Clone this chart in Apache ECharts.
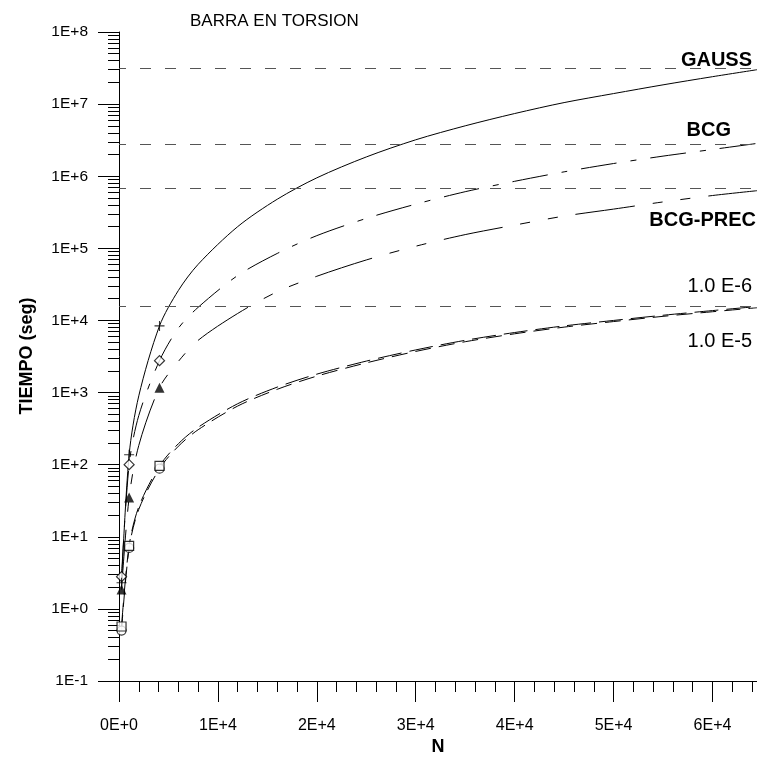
<!DOCTYPE html>
<html><head><meta charset="utf-8">
<script src="https://cdn.jsdelivr.net/npm/echarts@6/dist/echarts.min.js"></script>
<style>html,body{margin:0;padding:0;background:#fff}#c{width:757px;height:757px}</style>
</head><body><div id="c"></div>
<script>
// ---- data ----
const N        = [256, 1024, 2000, 4096, 6000, 8000, 12000, 16000, 20000, 25000, 30000, 35000, 40000, 45000, 50000, 55000, 60000, 64500];
const gauss    = [2.3, 137, 900, 8400, 2.6e4, 6.0e4, 2.0e5, 4.8e5, 9.5e5, 1.85e6, 3.2e6, 5.0e6, 7.4e6, 1.05e7, 1.4e7, 1.85e7, 2.4e7, 3.0e7];
const bcg      = [2.8, 100, 480, 2770, 7800, 1.52e4, 4.2e4, 8.5e4, 1.5e5, 2.6e5, 4.1e5, 6.1e5, 8.5e5, 1.15e6, 1.5e6, 1.9e6, 2.35e6, 2.85e6];
const bcgPrec  = [1.85, 35, 185, 1170, 2700, 5.3e3, 1.25e4, 2.5e4, 4.1e4, 6.9e4, 1.07e5, 1.55e5, 2.1e5, 2.8e5, 3.5e5, 4.4e5, 5.4e5, 6.3e5];
const tol6     = [0.57, 7.5, 26, 96, 195, 330, 700, 1190, 1800, 2730, 3900, 5300, 6800, 8400, 10000, 11800, 13700, 15600];
const tol5     = [0.5, 7.0, 24, 88, 180, 305, 650, 1110, 1690, 2580, 3720, 5070, 6530, 8080, 9650, 11400, 13200, 15000];
const markN    = [256, 1024, 4096]; // N values that carry symbols
const refLevels = [3.1e7, 2.8e6, 6.9e5, 1.56e4];
const yDecades = [0.1, 1, 10, 100, 1e3, 1e4, 1e5, 1e6, 1e7, 1e8];
const yMinorMult = [2, 3, 4, 5, 6, 7, 8, 9];
const xMajorTicks = [0, 10000, 20000, 30000, 40000, 50000, 60000];
const curveLabels = ['GAUSS', 'BCG', 'BCG-PREC', '1.0 E-6', '1.0 E-5'];
const titleText = 'BARRA EN TORSION';

// ---- build ----
const FONT = '"Liberation Sans", Arial, sans-serif';
const yMinor = [];
yDecades.slice(0, -1).forEach(d => yMinorMult.forEach(m => yMinor.push(Number((m * d).toPrecision(3)))));
const pts = arr => N.map((n, i) => [n, arr[i]]);
const marks = arr => pts(arr).filter(p => markN.indexOf(p[0]) >= 0);
const fmtY = v => { const e = Math.round(Math.log10(v)); return '1E' + (e >= 0 ? '+' : '') + e; };
const fmtX = v => xMajorTicks.indexOf(v) < 0 ? '' : (v === 0 ? '0E+0' : (v / 1e4) + 'E+4');
const plus = 'path://M-0.11,-1L0.11,-1L0.11,-0.11L1,-0.11L1,0.11L0.11,0.11L0.11,1L-0.11,1L-0.11,0.11L-1,0.11L-1,-0.11L-0.11,-0.11Z';

function curve(name, arr, dash) {
  return {name, type: 'line', data: pts(arr), showSymbol: false, smooth: 0.3,
    lineStyle: {color: '#000', width: 1, type: dash}, z: 2, silent: true};
}
function marker(name, arr, symbol, size, filled) {
  return {name: name + '-m', type: 'scatter', data: marks(arr), symbol, symbolSize: size,
    itemStyle: {color: filled ? '#000' : '#fff', borderColor: '#000', borderWidth: filled ? 0 : 1.2}, z: 5, silent: true};
}

const chart = echarts.init(document.getElementById('c'));
chart.setOption({
  animation: false,
  grid: {left: 119, top: 32, right: -1, bottom: 76},
  xAxis: [
    {type: 'value', min: 0, max: 64500, interval: 10000,
     axisLine: {lineStyle: {color: '#000', width: 1}},
     axisTick: {length: 21, lineStyle: {color: '#000'}},
     axisLabel: {formatter: fmtX, color: '#000', fontSize: 16, fontFamily: FONT, margin: 37, showMaxLabel: false},
     splitLine: {show: false}},
    {type: 'value', min: 0, max: 64500, interval: 2000, position: 'bottom',
     axisLine: {show: false}, axisTick: {length: 11, lineStyle: {color: '#000'}},
     axisLabel: {show: false}, splitLine: {show: false}}
  ],
  yAxis: [
    {type: 'log', logBase: 10, min: 0.1, max: 1e8, splitNumber: 9,
     axisLine: {lineStyle: {color: '#000', width: 1}},
     axisTick: {length: 21, customValues: yDecades, lineStyle: {color: '#000'}},
     axisLabel: {customValues: yDecades, formatter: fmtY, color: '#000', fontSize: 15.5, fontFamily: FONT, margin: 31},
     splitLine: {show: false}},
    {type: 'log', logBase: 10, min: 0.1, max: 1e8, position: 'left',
     axisLine: {show: false},
     axisTick: {length: 11, customValues: yMinor, lineStyle: {color: '#000'}},
     axisLabel: {show: false}, splitLine: {show: false}}
  ],
  series: [
    {name: 'ref', type: 'line', data: [], silent: true,
     markLine: {silent: true, symbol: ['none', 'none'], label: {show: false}, animation: false,
       lineStyle: {color: '#555', width: 1, type: [11, 14], dashOffset: 4},
       data: refLevels.map(v => ({yAxis: v}))}},
    curve(curveLabels[0], gauss, 'solid'),
    curve(curveLabels[1], bcg, [36, 14, 6, 14]),
    curve(curveLabels[2], bcgPrec, [60, 18, 10, 18, 10, 18]),
    curve(curveLabels[3], tol6, [24, 8]),
    curve(curveLabels[4], tol5, [16, 8]),
    marker(curveLabels[4], tol5, 'circle', 9, false),
    marker(curveLabels[3], tol6, 'rect', 9, false),
    marker(curveLabels[2], bcgPrec, 'triangle', 10, true),
    marker(curveLabels[1], bcg, 'diamond', 10, false),
    marker(curveLabels[0], gauss, plus, 10, true)
  ],
  graphic: [
    {type: 'text', x: 190, y: 21, style: {text: titleText, font: '17px ' + FONT, fill: '#000', textVerticalAlign: 'middle'}},
    {type: 'text', x: 27, y: 356, rotation: Math.PI / 2, style: {text: 'TIEMPO (seg)', font: 'bold 18px ' + FONT, fill: '#000', textAlign: 'center', textVerticalAlign: 'middle'}},
    {type: 'text', x: 438, y: 747, style: {text: 'N', font: 'bold 18px ' + FONT, fill: '#000', textAlign: 'center', textVerticalAlign: 'middle'}},
    {type: 'text', x: 752, y: 60, style: {text: curveLabels[0], font: 'bold 20px ' + FONT, fill: '#000', textAlign: 'right', textVerticalAlign: 'middle'}},
    {type: 'text', x: 731, y: 130, style: {text: curveLabels[1], font: 'bold 20px ' + FONT, fill: '#000', textAlign: 'right', textVerticalAlign: 'middle'}},
    {type: 'text', x: 756, y: 220, style: {text: curveLabels[2], font: 'bold 20px ' + FONT, fill: '#000', textAlign: 'right', textVerticalAlign: 'middle'}},
    {type: 'text', x: 752, y: 286, style: {text: curveLabels[3], font: '20px ' + FONT, fill: '#000', textAlign: 'right', textVerticalAlign: 'middle'}},
    {type: 'text', x: 752, y: 341, style: {text: curveLabels[4], font: '20px ' + FONT, fill: '#000', textAlign: 'right', textVerticalAlign: 'middle'}}
  ]
});
</script>
</body></html>
